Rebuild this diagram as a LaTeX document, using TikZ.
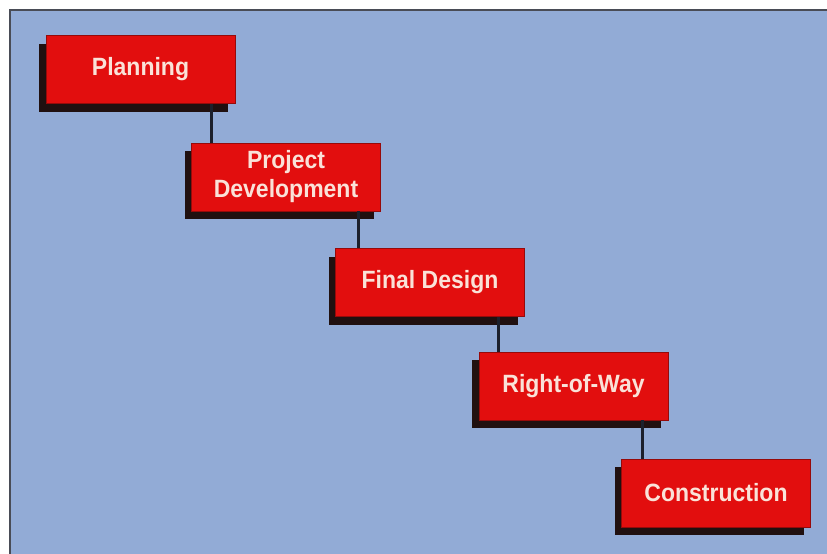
\documentclass[tikz,border=0pt]{standalone}
\usepackage{fontspec}
\newfontfamily\boxfont[FakeStretch=0.92]{Liberation Sans}
\usetikzlibrary{calc}
\definecolor{bgblue}{RGB}{146,171,214}
\definecolor{boxred}{RGB}{226,14,14}
\definecolor{edgered}{RGB}{150,10,10}
\definecolor{shadowc}{RGB}{32,16,16}
\definecolor{linec}{RGB}{28,32,44}
\definecolor{textc}{RGB}{250,226,216}
\tikzset{
  stage/.style={fill=boxred, draw=edgered, line width=0.8pt,
    minimum width=189pt, minimum height=68pt, inner sep=0pt,
    font=\boxfont\bfseries\fontsize{25}{29}\selectfont, text=textc, align=center},
  conn/.style={draw=linec, line width=3pt},
  shade/.style={fill=shadowc}
}
\begin{document}
\begin{tikzpicture}[x=1pt,y=-1pt]
\useasboundingbox (0,0) rectangle (827,554);
\fill[white] (0,0) rectangle (827,554);
\fill[bgblue] (10,10) rectangle (827,554);
\draw[linec!80, line width=1.5pt] (10,554) -- (10,10) -- (827,10);

% shadows
\foreach \cx/\cy in {140.5/69.5, 286/177, 430/282.5, 573.5/386, 716/493}{
  \fill[shade] (\cx-94.5-7,\cy-34+8) rectangle (\cx+94.5-7,\cy+34+8);
}

% connectors (drawn before boxes)
\coordinate (c1) at (212,69.5);
\node[stage] (plan) at (140.5,69.5) {Planning};
\node[stage] (dev) at (286,177) {Project\\Development};
\node[stage] (des) at (430,282.5) {Final Design};
\node[stage] (row) at (573.5,386) {Right-of-Way};
\node[stage] (con) at (716,493) {Construction};

\begin{scope}[on background layer/.style={}]
\end{scope}
\draw[conn] ([xshift=20pt]dev.north west |- plan.south) -- ([xshift=20pt]dev.north west);
\draw[conn] ([xshift=23pt]des.north west |- dev.south) -- ([xshift=23pt]des.north west);
\draw[conn] ([xshift=20pt]row.north west |- des.south) -- ([xshift=20pt]row.north west);
\draw[conn] ([xshift=21pt]con.north west |- row.south) -- ([xshift=21pt]con.north west);
\end{tikzpicture}
\end{document}
